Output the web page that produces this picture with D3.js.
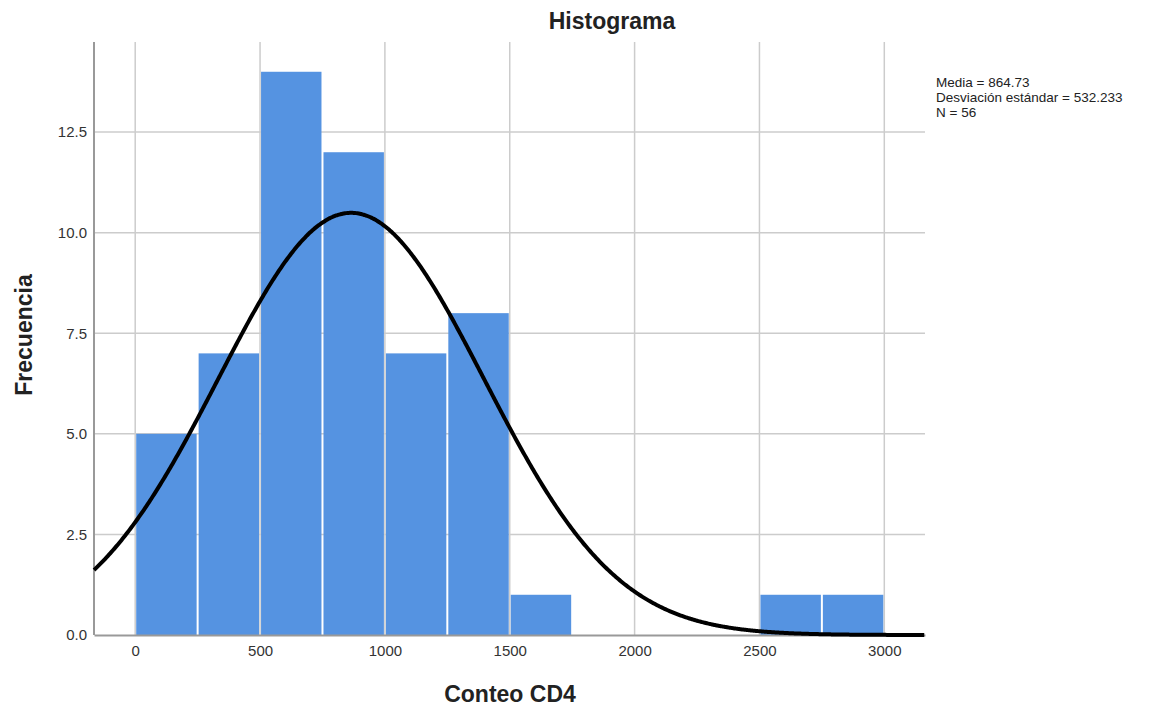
<!DOCTYPE html>
<html lang="es">
<head>
<meta charset="utf-8">
<title>Histograma</title>
<script src="https://cdn.jsdelivr.net/npm/d3@7"></script>
<style>
  body { margin: 0; background: #fff; }
  svg { font-family: "Liberation Sans", Arial, sans-serif; }
  .grid line { stroke: #cccccc; stroke-width: 1.5; }
  .tick text { fill: #333; font-size: 15px; }
</style>
</head>
<body>
<svg id="chart" width="1165" height="707"></svg>
<script>
// bins of Conteo CD4 (width 250) and their counts
var binStarts = [0, 250, 500, 750, 1000, 1250, 1500, 2500, 2750];
var counts    = [5, 7, 14, 12, 7, 8, 1, 1, 1];
var binWidth = 250;
var xTicks = [0, 500, 1000, 1500, 2000, 2500, 3000];
var yTicks = [0, 2.5, 5, 7.5, 10, 12.5];
var media = 864.73, sd = 532.233, n = 56;

// plot box (note: "top" is reserved on window, so use plot* names)
var plotLeft = 94, plotRight = 925, plotTop = 42, plotBottom = 635;

var svg = d3.select("#chart");

var x = d3.scaleLinear().domain([-165, 3163]).range([plotLeft, plotRight]);
var y = d3.scaleLinear().domain([0, 14.74]).range([plotBottom, plotTop]);

// gridlines
svg.append("g").attr("class", "grid")
  .selectAll("line").data(xTicks).enter().append("line")
  .attr("x1", d => x(d)).attr("x2", d => x(d))
  .attr("y1", plotTop).attr("y2", plotBottom);
svg.append("g").attr("class", "grid")
  .selectAll("line").data(yTicks.slice(1)).enter().append("line")
  .attr("x1", plotLeft).attr("x2", plotRight)
  .attr("y1", d => y(d)).attr("y2", d => y(d));

// bars
svg.append("g").selectAll("rect").data(counts).enter().append("rect")
  .attr("x", (d, i) => x(binStarts[i]) + 1)
  .attr("width", (d, i) => x(binStarts[i] + binWidth) - x(binStarts[i]) - 2)
  .attr("y", d => y(d))
  .attr("height", d => plotBottom - y(d))
  .attr("fill", "#5593e1");

// axes
var xAxis = svg.append("g")
  .attr("transform", "translate(0," + plotBottom + ")")
  .call(d3.axisBottom(x).tickValues(xTicks).tickFormat(d3.format("d")).tickSize(0).tickPadding(10));
xAxis.select(".domain").attr("stroke", "#999").attr("stroke-width", 2);

var yAxis = svg.append("g")
  .attr("transform", "translate(" + plotLeft + ",0)")
  .call(d3.axisLeft(y).tickValues(yTicks).tickFormat(d3.format(".1f")).tickSize(0).tickPadding(7));
yAxis.select(".domain").attr("stroke", "#999").attr("stroke-width", 2)
  .attr("d", "M0," + plotTop + "V" + plotBottom);
svg.selectAll(".tick text").style("font-family", "Liberation Sans, Arial, sans-serif");

// fitted normal curve from mean, sd and N
var curvePts = d3.range(-165, 3164, 5).map(function(v) {
  var z = (v - media) / sd;
  return [v, n * binWidth * Math.exp(-0.5 * z * z) / (sd * Math.sqrt(2 * Math.PI))];
});
svg.append("path")
  .datum(curvePts)
  .attr("fill", "none")
  .attr("stroke", "#000")
  .attr("stroke-width", 4)
  .attr("d", d3.line().x(d => x(d[0])).y(d => y(d[1])).curve(d3.curveBasis));

// title and labels
svg.append("text").attr("x", 612).attr("y", 29)
  .attr("text-anchor", "middle").style("font-size", "23px").style("font-weight", "bold")
  .attr("fill", "#222").text("Histograma");
svg.append("text").attr("x", 510).attr("y", 702)
  .attr("text-anchor", "middle").style("font-size", "23px").style("font-weight", "bold")
  .attr("fill", "#222").text("Conteo CD4");
svg.append("text").attr("transform", "translate(32,335) rotate(-90)")
  .attr("text-anchor", "middle").style("font-size", "23px").style("font-weight", "bold")
  .attr("fill", "#222").text("Frecuencia");

// stats box
var stats = ["Media = " + media, "Desviación estándar = " + sd, "N = " + n];
svg.append("g").selectAll("text").data(stats).enter().append("text")
  .attr("x", 936).attr("y", (d, i) => 87 + i * 15)
  .style("font-size", "13.5px").attr("fill", "#222").text(d => d);
</script>
</body>
</html>
